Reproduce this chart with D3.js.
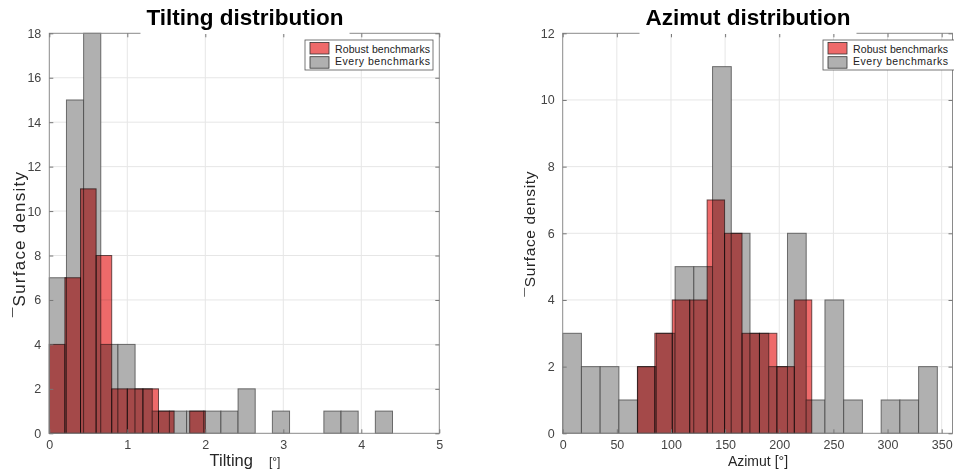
<!DOCTYPE html>
<html>
<head>
<meta charset="utf-8">
<script src="https://cdn.jsdelivr.net/npm/d3@7"></script>
<style>
  body { margin: 0; background: #fff; }
  svg { display: block; font-family: "Liberation Sans", Arial, Helvetica, sans-serif; }
  .grid line { stroke: #e6e6e6; stroke-width: 1; }
  .robust { mix-blend-mode: multiply; }
</style>
</head>
<body>
<div id="chart"></div>
<script>
// ---- data ----
const legendLabels = ["Robust benchmarks", "Every benchmarks"];

// Tilting histogram (degrees)
const tiltEveryEdges = [0, 0.22, 0.44, 0.66, 0.88, 1.10, 1.32, 1.54, 1.76, 1.98, 2.20,
                        2.42, 2.64, 2.86, 3.08, 3.30, 3.52, 3.74, 3.96, 4.18, 4.40];
const tiltEveryCounts = [7, 15, 18, 4, 4, 2, 1, 1, 1, 1, 1, 2, 0, 1, 0, 0, 1, 1, 0, 1];
const tiltRobustEdges = [0, 0.2, 0.4, 0.6, 0.8, 1.0, 1.2, 1.4, 1.6, 1.8, 2.0];
const tiltRobustCounts = [4, 7, 11, 8, 2, 2, 2, 1, 0, 1];
const tiltXTicks = [0, 1, 2, 3, 4, 5];
const tiltYTicks = [0, 2, 4, 6, 8, 10, 12, 14, 16, 18];

// Azimut histogram (degrees)
const aziEveryEdges = [0, 17.3, 34.6, 51.9, 69.2, 86.5, 103.8, 121.1, 138.4, 155.7, 173.0,
                       190.3, 207.6, 224.9, 242.2, 259.5, 276.8, 294.1, 311.4, 328.7, 346.0];
const aziEveryCounts = [3, 2, 2, 1, 2, 3, 5, 5, 11, 6, 3, 2, 6, 1, 4, 1, 0, 1, 1, 2];
const aziRobustEdges = [69, 85.1, 101.2, 117.3, 133.4, 149.5, 165.6, 181.7, 197.8, 213.9, 230];
const aziRobustCounts = [2, 3, 4, 4, 7, 6, 3, 3, 2, 4];
const aziXTicks = [0, 50, 100, 150, 200, 250, 300, 350];
const aziYTicks = [0, 2, 4, 6, 8, 10, 12];

const width = 954, height = 473;

const svg = d3.select("#chart").append("svg")
  .attr("width", width)
  .attr("height", height);

// turn edges + counts into bins
function toBins(edges, counts) {
  return counts.map((c, i) => ({x0: edges[i], x1: edges[i + 1], n: c}));
}

function drawPanel(p) {
  const x = d3.scaleLinear().domain(p.xDomain).range([p.left, p.right]);
  const y = d3.scaleLinear().domain(p.yDomain).range([p.bottom, p.top]);
  const g = svg.append("g");

  // grid
  const grid = g.append("g").attr("class", "grid");
  grid.selectAll(".gx").data(p.xTicks.filter(d => d > p.xDomain[0] && d < p.xDomain[1]))
    .join("line").attr("x1", d => x(d)).attr("x2", d => x(d))
    .attr("y1", p.top).attr("y2", p.bottom);
  grid.selectAll(".gy").data(p.yTicks.filter(d => d > p.yDomain[0] && d < p.yDomain[1]))
    .join("line").attr("y1", d => y(d)).attr("y2", d => y(d))
    .attr("x1", p.left).attr("x2", p.right);

  // gray bars: every benchmark
  g.append("g").selectAll("rect")
    .data(toBins(p.everyEdges, p.everyCounts))
    .join("rect")
    .attr("x", d => x(d.x0))
    .attr("y", d => y(d.n))
    .attr("width", d => x(d.x1) - x(d.x0))
    .attr("height", d => y(0) - y(d.n))
    .attr("fill", "#b0b0b0")
    .attr("stroke", "#3c3c3c")
    .attr("stroke-opacity", 0.7)
    .attr("stroke-width", 1);

  // red bars: robust benchmarks, multiplied over the gray ones
  g.append("g").selectAll("rect")
    .data(toBins(p.robustEdges, p.robustCounts))
    .join("rect")
    .attr("class", "robust")
    .attr("x", d => x(d.x0))
    .attr("y", d => y(d.n))
    .attr("width", d => x(d.x1) - x(d.x0))
    .attr("height", d => y(0) - y(d.n))
    .attr("fill", "#ee6a6a")
    .attr("stroke", "#3a2020")
    .attr("stroke-opacity", 0.75)
    .attr("stroke-width", 1);

  // frame
  g.append("rect")
    .attr("x", p.left).attr("y", p.top)
    .attr("width", p.right - p.left).attr("height", p.bottom - p.top)
    .attr("fill", "none").attr("stroke", "#8a8a8a").attr("stroke-width", 1);

  // axes with inward ticks, labels outside
  const fmt = d3.format("~g");
  const xb = d3.axisBottom(x).tickValues(p.xTicks).tickSize(-4).tickPadding(7).tickFormat(fmt);
  const xt = d3.axisTop(x).tickValues(p.xTicks).tickSize(-4).tickFormat("");
  const yl = d3.axisLeft(y).tickValues(p.yTicks).tickSize(-4).tickPadding(8).tickFormat(fmt);
  const yr = d3.axisRight(y).tickValues(p.yTicks).tickSize(-4).tickFormat("");
  [[xb, `translate(0,${p.bottom})`], [xt, `translate(0,${p.top})`],
   [yl, `translate(${p.left},0)`], [yr, `translate(${p.right},0)`]].forEach(([ax, tr]) => {
    const a = g.append("g").attr("transform", tr).call(ax);
    a.select(".domain").remove();
    a.selectAll(".tick line").attr("stroke", "#777");
    a.selectAll("text").attr("fill", "#444").attr("font-size", p.tickFont)
      .attr("font-family", "Liberation Sans, Arial, sans-serif");
  });

  // title with white background cutting the top border
  const titleBg = g.append("rect").attr("fill", "#fff");
  const title = g.append("text")
    .attr("x", p.titleX).attr("y", 25)
    .attr("text-anchor", "middle")
    .attr("font-size", 22.5).attr("font-weight", "bold").attr("fill", "#000")
    .text(p.title);
  const bb = title.node().getBBox();
  titleBg.attr("x", bb.x - 6).attr("y", bb.y).attr("width", bb.width + 12).attr("height", bb.height + 4);

  // x label
  const xl = g.append("text")
    .attr("x", p.xLabelX).attr("y", 466)
    .attr("text-anchor", "middle").attr("fill", "#262626");
  xl.append("tspan").attr("font-size", p.xLabelFont).text(p.xLabel);
  xl.append("tspan").attr("font-size", p.unitFont).attr("dx", p.unitGap).text("[°]");

  // y label
  g.append("text")
    .attr("transform", `translate(${p.yLabelX},${p.yLabelY}) rotate(-90)`)
    .attr("text-anchor", "middle")
    .attr("font-size", p.yLabelFont).attr("fill", "#262626")
    .attr("textLength", p.yLabelLen).attr("lengthAdjust", "spacing")
    .text("¯Surface density");

  // legend
  const lg = g.append("g").attr("transform", `translate(${p.legendX},40)`);
  lg.append("rect").attr("width", p.legendW).attr("height", 30)
    .attr("fill", "#fff").attr("stroke", "#555").attr("stroke-width", 0.8);
  const fills = ["#ee6a6a", "#b0b0b0"];
  legendLabels.forEach((t, i) => {
    lg.append("rect").attr("x", 5).attr("y", 2.5 + i * 14.2).attr("width", 19).attr("height", 11.5)
      .attr("fill", fills[i]).attr("stroke", "#333").attr("stroke-width", 0.8);
    lg.append("text").attr("x", 30).attr("y", 13 + i * 11.5)
      .attr("font-size", 10.5).attr("fill", "#222")
      .attr("textLength", 95).attr("lengthAdjust", "spacing")
      .text(t);
  });
}

drawPanel({
  left: 49.3, right: 439.3, top: 33.3, bottom: 433.3,
  xDomain: [0, 5], yDomain: [0, 18], xTicks: tiltXTicks, yTicks: tiltYTicks,
  everyEdges: tiltEveryEdges, everyCounts: tiltEveryCounts,
  robustEdges: tiltRobustEdges, robustCounts: tiltRobustCounts,
  title: "Tilting distribution", titleX: 245,
  xLabel: "Tilting", xLabelX: 245, xLabelFont: 16.5, unitFont: 12, unitGap: 16,
  yLabelX: 25, yLabelY: 244.5, yLabelFont: 17, yLabelLen: 145,
  legendX: 305, legendW: 128, tickFont: 12.5
});

drawPanel({
  left: 562.7, right: 952.5, top: 33.3, bottom: 433.3,
  xDomain: [0, 360], yDomain: [0, 12], xTicks: aziXTicks, yTicks: aziYTicks,
  everyEdges: aziEveryEdges, everyCounts: aziEveryCounts,
  robustEdges: aziRobustEdges, robustCounts: aziRobustCounts,
  title: "Azimut distribution", titleX: 748,
  xLabel: "Azimut", xLabelX: 758, xLabelFont: 14, unitFont: 14, unitGap: 4,
  yLabelX: 535.4, yLabelY: 234, yLabelFont: 15.5, yLabelLen: 125,
  legendX: 823, legendW: 134, tickFont: 12.5
});
</script>
</body>
</html>
